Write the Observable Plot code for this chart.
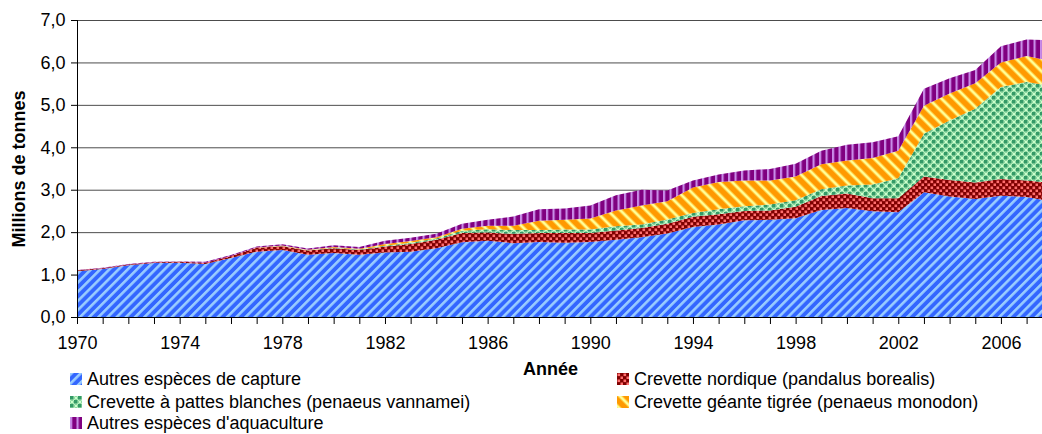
<!DOCTYPE html>
<html><head><meta charset="utf-8">
<script src="https://cdn.jsdelivr.net/npm/d3@7"></script>
<script src="https://cdn.jsdelivr.net/npm/@observablehq/plot@0.6"></script>
<style>
body{margin:0;background:#fff;font-family:"Liberation Sans",Arial,sans-serif;}
#wrap{position:relative;width:1042px;height:434px;overflow:hidden;}
.leg{position:absolute;font-size:18px;height:22px;line-height:22px;display:flex;align-items:center;white-space:nowrap;color:#000}
.leg svg{margin-right:5px;flex:none}
</style></head><body>
<svg width="0" height="0" style="position:absolute">
<defs>
  <pattern id="pBlue" patternUnits="userSpaceOnUse" width="6.5" height="6.5" patternTransform="rotate(45)">
    <rect width="6.5" height="6.5" fill="#3366FF"/>
    <rect x="0" width="2.6" height="6.5" fill="#99CCFF"/>
  </pattern>
  <pattern id="pRed" patternUnits="userSpaceOnUse" width="6" height="6">
    <rect width="6" height="6" fill="#800000"/>
    <rect x="0.5" y="0.5" width="2.6" height="2.6" fill="#FF6F6F"/>
    <rect x="3.5" y="3.5" width="2.6" height="2.6" fill="#FF6F6F"/>
  </pattern>
  <pattern id="pGreen" patternUnits="userSpaceOnUse" width="8" height="8">
    <rect width="8" height="8" fill="#CCFFCC"/>
    <rect x="0" y="0" width="3.6" height="3.6" fill="#339966"/>
    <rect x="4" y="4" width="3.6" height="3.6" fill="#339966"/>
    <circle cx="6" cy="2" r="1.7" fill="none" stroke="#7FCF97" stroke-width="0.8"/>
    <circle cx="2" cy="6" r="1.7" fill="none" stroke="#7FCF97" stroke-width="0.8"/>
  </pattern>
  <pattern id="pOrange" patternUnits="userSpaceOnUse" width="9" height="9" patternTransform="rotate(-45)">
    <rect width="9" height="9" fill="#FF9900"/>
    <rect x="0" width="4" height="9" fill="#FFCC44"/>
    <rect x="1" width="2" height="9" fill="#FFFF99"/>
  </pattern>
  <pattern id="pPurple" patternUnits="userSpaceOnUse" width="6.5" height="6">
    <rect width="6.5" height="6" fill="#800080"/>
    <rect x="0" width="2.2" height="6" fill="#C88CE8"/>
  </pattern>
</defs>
</svg>
<div id="wrap"></div>
<script>
const years = [1970,1971,1972,1973,1974,1975,1976,1977,1978,1979,
  1980,1981,1982,1983,1984,1985,1986,1987,1988,1989,
  1990,1991,1992,1993,1994,1995,1996,1997,1998,1999,
  2000,2001,2002,2003,2004,2005,2006,2007,2008];
const series = [
  "Autres espèces de capture",
  "Crevette nordique (pandalus borealis)",
  "Crevette à pattes blanches (penaeus vannamei)",
  "Crevette géante tigrée (penaeus monodon)",
  "Autres espèces d'aquaculture"
];
const capture = [1.08,1.13,1.22,1.27,1.28,1.25,1.39,1.54,1.58,1.47,
  1.51,1.47,1.52,1.54,1.62,1.76,1.80,1.74,1.77,1.75,
  1.77,1.82,1.88,1.97,2.12,2.18,2.28,2.29,2.33,2.52,
  2.57,2.49,2.47,2.94,2.84,2.78,2.86,2.83,2.72];
const nordique = [0.02,0.02,0.02,0.02,0.02,0.03,0.05,0.09,0.09,0.10,
  0.11,0.11,0.14,0.18,0.20,0.22,0.19,0.22,0.21,0.23,
  0.21,0.22,0.22,0.23,0.24,0.24,0.22,0.22,0.27,0.33,
  0.34,0.31,0.33,0.37,0.39,0.39,0.39,0.39,0.44];
const vannamei = [0,0,0,0,0,0,0,0,0.005,0.005,
  0.01,0.01,0.02,0.03,0.03,0.05,0.08,0.09,0.07,0.08,
  0.08,0.10,0.08,0.10,0.09,0.12,0.11,0.14,0.15,0.16,
  0.19,0.32,0.47,1.01,1.40,1.74,2.17,2.32,2.28];
const monodon = [0,0,0,0,0,0,0,0.01,0.01,0.01,
  0.02,0.02,0.04,0.04,0.03,0.05,0.08,0.10,0.22,0.23,
  0.26,0.37,0.45,0.43,0.60,0.64,0.61,0.57,0.56,0.59,
  0.59,0.63,0.65,0.66,0.64,0.60,0.58,0.61,0.58];
const aquaAutres = [0.01,0.01,0.01,0.01,0.01,0.02,0.02,0.02,0.03,0.03,
  0.04,0.04,0.08,0.08,0.08,0.12,0.14,0.22,0.27,0.27,
  0.31,0.36,0.37,0.25,0.17,0.18,0.23,0.27,0.30,0.32,
  0.37,0.37,0.34,0.40,0.36,0.31,0.38,0.39,0.50];
const yTicks = [0,1,2,3,4,5,6,7];
const xTicks = years.filter(y => y <= 2007);
const patterns = ["url(#pBlue)","url(#pRed)","url(#pGreen)","url(#pOrange)","url(#pPurple)"];

const values = [capture, nordique, vannamei, monodon, aquaAutres];
const data = [];
series.forEach((s, i) => years.forEach((yr, j) => data.push({year: yr, series: s, value: values[i][j]})));

const chart = Plot.plot({
  width: 1042, height: 380,
  marginLeft: 77, marginRight: 0, marginTop: 20, marginBottom: 63,
  style: {fontFamily: '"Liberation Sans", Arial, sans-serif', fontSize: "18px", color: "#000", background: "transparent", overflow: "visible"},
  x: {domain: [1970, 2007.6]},
  y: {domain: [0, 7]},
  color: {domain: series, range: patterns},
  marks: [
    Plot.gridY(yTicks.slice(1), {stroke: "#000", strokeOpacity: 0.7}),
    Plot.areaY(data, {x: "year", y: "value", fill: "series", z: "series", order: series, clip: true}),
    Plot.ruleX([1970], {stroke: "#000"}),
    Plot.ruleY([0], {stroke: "#000"}),
    Plot.axisX({ticks: xTicks, tickSize: 7, tickPadding: 12, label: null,
      tickFormat: d => (d - 1970) % 4 === 0 ? String(d) : ""}),
    Plot.axisY({ticks: yTicks, tickSize: 6, tickPadding: 6, label: null,
      tickFormat: d => d.toFixed(1).replace(".", ",")}),
    Plot.text(["Millions de tonnes"], {frameAnchor: "left", dx: -58.5, rotate: -90, textAnchor: "middle", lineAnchor: "middle", fontWeight: "bold", fontSize: 18}),
    Plot.text(["Année"], {frameAnchor: "bottom", dx: -9.5, dy: 52, textAnchor: "middle", lineAnchor: "middle", fontWeight: "bold", fontSize: 18})
  ]
});
const wrap = document.getElementById("wrap");
wrap.appendChild(chart);

const legendItems = [
  {i: 0, left: 70, top: 368},
  {i: 1, left: 617, top: 368},
  {i: 2, left: 70, top: 390.5},
  {i: 3, left: 617, top: 390.5},
  {i: 4, left: 70, top: 412}
];
legendItems.forEach(({i, left, top}) => {
  const d = document.createElement("div");
  d.className = "leg";
  d.style.left = left + "px";
  d.style.top = top + "px";
  d.innerHTML = `<svg width="12" height="12"><rect width="12" height="12" fill="${patterns[i]}"/></svg><span></span>`;
  d.querySelector("span").textContent = series[i];
  wrap.appendChild(d);
});
</script>
</body></html>
